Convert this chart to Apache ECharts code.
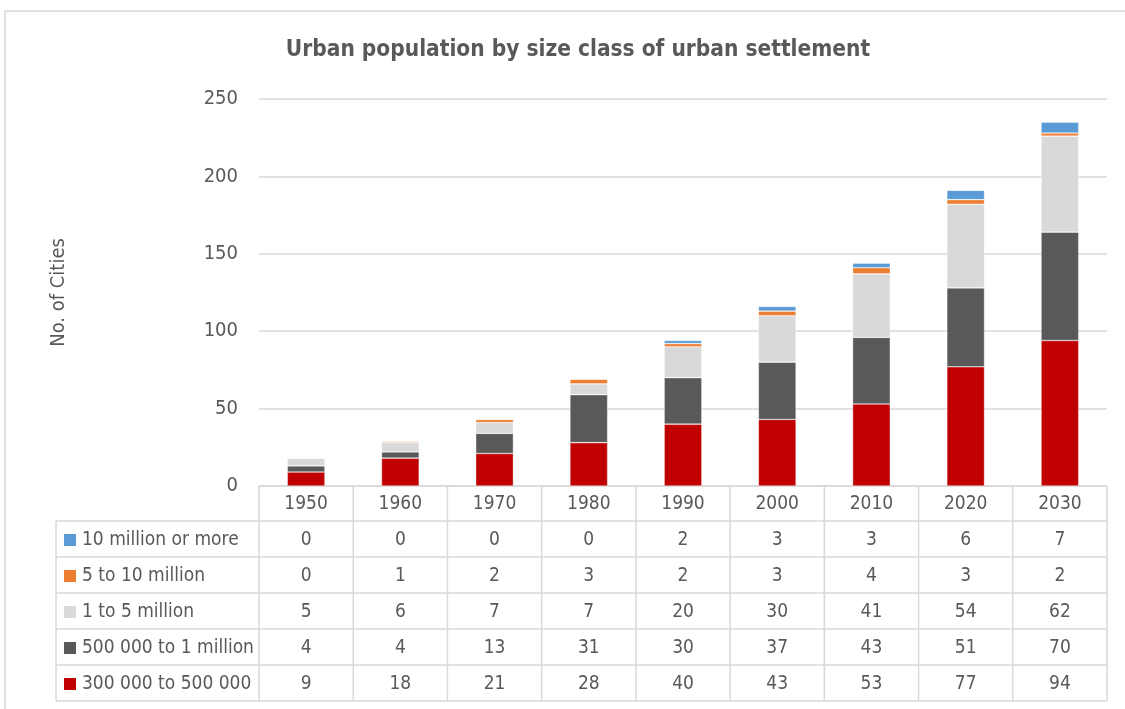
<!DOCTYPE html>
<html>
<head>
<meta charset="utf-8">
<script src="https://cdn.jsdelivr.net/npm/echarts@6/dist/echarts.min.js"></script>
<style>
html,body{margin:0;padding:0;background:#fff;}
#c{width:1125px;height:709px;}
</style>
</head>
<body>
<div id="c"></div>
<script>
var years = ['1950','1960','1970','1980','1990','2000','2010','2020','2030'];
var s300k = [9,18,21,28,40,43,53,77,94];
var s500k = [4,4,13,31,30,37,43,51,70];
var s1to5m = [5,6,7,7,20,30,41,54,62];
var s5to10m = [0,1,2,3,2,3,4,3,2];
var s10m = [0,0,0,0,2,3,3,6,7];
var yTicks = [0,50,100,150,200,250];

var seriesDefs = [
  {name:'300 000 to 500 000', data:s300k, color:'#C00000'},
  {name:'500 000 to 1 million', data:s500k, color:'#595959'},
  {name:'1 to 5 million', data:s1to5m, color:'#D9D9D9'},
  {name:'5 to 10 million', data:s5to10m, color:'#ED7D31'},
  {name:'10 million or more', data:s10m, color:'#5B9BD5'}
];

var FONT = '"Liberation Sans Narrow","DejaVu Sans Condensed","Liberation Sans",sans-serif';
var TXT = '#595959';
var LINE = '#D9D9D9';
var gridL = 259, gridR = 18, gridT = 99, gridB = 709-486;
var TFS = 19;

var chart = echarts.init(document.getElementById('c'));
var option = {
  animation:false,
  title:{text:'Urban population by size class of urban settlement', left:573, top:34, textAlign:'center',
    textStyle:{fontFamily:FONT, fontSize:22.5, fontWeight:'bold', color:TXT}},
  grid:{left:gridL, right:gridR, top:gridT, bottom:gridB, containLabel:false},
  xAxis:{type:'category', data:years, axisLine:{show:false}, axisTick:{show:false}, axisLabel:{show:false}},
  yAxis:{type:'value', min:0, max:250, interval:50,
    name:'No. of Cities', nameLocation:'middle', nameGap:190, nameRotate:90,
    nameTextStyle:{fontFamily:FONT, fontSize:20, color:TXT},
    axisLine:{show:false}, axisTick:{show:false},
    axisLabel:{fontFamily:FONT, fontSize:20, color:TXT, margin:21},
    splitLine:{lineStyle:{color:LINE, width:1.5}}},
  series: seriesDefs.map(function(s){
    return {name:s.name, type:'bar', stack:'total', data:s.data, barWidth:'40%',
      itemStyle:{color:s.color, borderColor:'rgba(255,255,255,0.6)', borderWidth:0.6}};
  })
};
chart.setOption(option);

// data table drawn below the axis
function buildTable(){
  var g = [];
  var top = 486, headH = 35, rowH = 36, leftX = 56, rightX = 1125-gridR;
  var rows = seriesDefs.slice().reverse();
  var xs = years.map(function(y,i){ return chart.convertToPixel({xAxisIndex:0}, i); });
  var cw = xs.length>1 ? xs[1]-xs[0] : 94;
  var bottom = top + headH + rows.length*rowH;
  var ls = {stroke:LINE, lineWidth:1.5};
  g.push({type:'line', shape:{x1:gridL, y1:top, x2:rightX, y2:top}, style:ls});
  for (var r=0; r<=rows.length; r++){
    var y = top + headH + r*rowH;
    g.push({type:'line', shape:{x1:leftX, y1:y, x2:rightX, y2:y}, style:ls});
  }
  g.push({type:'line', shape:{x1:leftX, y1:top+headH, x2:leftX, y2:bottom}, style:ls});
  for (var i=0; i<=years.length; i++){
    var x = gridL + i*cw;
    g.push({type:'line', shape:{x1:x, y1:top, x2:x, y2:bottom}, style:ls});
  }
  years.forEach(function(yr,i){
    g.push({type:'text', x:xs[i], y:top+headH/2+1, style:{text:yr, align:'center', verticalAlign:'middle',
      font:TFS+'px '+FONT, fill:TXT}});
  });
  rows.forEach(function(s,r){
    var cy = top + headH + r*rowH + rowH/2 + 1;
    g.push({type:'rect', shape:{x:64, y:cy-6, width:12, height:12}, style:{fill:s.color}});
    g.push({type:'text', x:82, y:cy, style:{text:s.name, align:'left', verticalAlign:'middle',
      font:TFS+'px '+FONT, fill:TXT}});
    s.data.forEach(function(v,i){
      g.push({type:'text', x:xs[i], y:cy, style:{text:String(v), align:'center', verticalAlign:'middle',
        font:TFS+'px '+FONT, fill:TXT}});
    });
  });
  g.push({type:'rect', shape:{x:5, y:11, width:1130, height:720}, style:{fill:'none', stroke:'#D9D9D9', lineWidth:1.5}});
  chart.setOption({graphic:g});
}
buildTable();
</script>
</body>
</html>
